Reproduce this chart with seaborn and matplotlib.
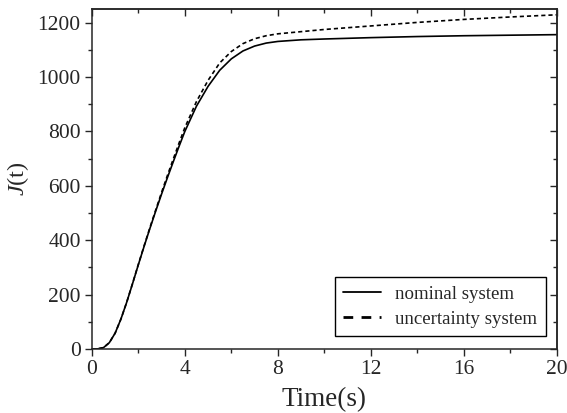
import pandas as pd
import seaborn as sns
import matplotlib.pyplot as plt
from matplotlib.ticker import MultipleLocator

# values
time_s = [0, 0.25, 0.5, 0.75, 1.0, 1.25, 1.5, 1.75, 2.0, 2.25, 2.5, 2.75, 3.0, 3.25,
          3.5, 3.75, 4.0, 4.5, 5.0, 5.5, 6.0, 6.5, 7.0, 7.5, 8.0, 9.0, 10, 12, 14, 16, 18, 20]
nominal = [0, 0.5, 5, 23, 58, 110, 172, 240, 310, 378, 444, 508, 570, 630,
           688, 745, 800, 893, 966, 1025, 1067, 1096, 1114, 1125, 1131, 1137, 1140, 1145, 1149, 1152, 1154, 1156]
uncertainty = [0, 0.5, 5, 23, 58, 110, 172, 241, 311, 380, 447, 512, 576, 638,
               698, 757, 814, 910, 988, 1052, 1094, 1123, 1141, 1152, 1159, 1167, 1175, 1188, 1201, 1212, 1221, 1229]

df = pd.DataFrame({'t': time_s, 'nominal': nominal, 'uncertainty': uncertainty})

sns.set_style('ticks')
plt.rcParams['font.family'] = ['Liberation Serif', 'DejaVu Serif']
plt.rcParams['mathtext.fontset'] = 'custom'
plt.rcParams['mathtext.it'] = 'Liberation Serif:italic'
plt.rcParams['mathtext.rm'] = 'Liberation Serif'

fig, ax = plt.subplots(figsize=(5.67, 4.13), dpi=100)
fig.subplots_adjust(left=0.162, right=0.982, bottom=0.155, top=0.978)

sns.lineplot(data=df, x='t', y='nominal', ax=ax, color='black', lw=1.2, label='nominal system')
sns.lineplot(data=df, x='t', y='uncertainty', ax=ax, color='black', lw=1.2,
             linestyle=(0, (2.5, 1.8)), label='uncertainty system')

ax.set_xlim(0, 20)
ax.set_ylim(0, 1250)
ax.xaxis.set_major_locator(MultipleLocator(4))
ax.xaxis.set_minor_locator(MultipleLocator(2))
ax.yaxis.set_major_locator(MultipleLocator(200))
ax.yaxis.set_minor_locator(MultipleLocator(100))
ax.tick_params(which='major', direction='out', length=5, width=1, labelsize=15.5, pad=3)
ax.tick_params(which='minor', direction='out', length=3, width=1)

# mirrored ticks pointing inward on top and right
top = ax.secondary_xaxis('top')
top.xaxis.set_major_locator(MultipleLocator(4))
top.xaxis.set_minor_locator(MultipleLocator(2))
top.tick_params(which='major', direction='in', length=5, width=1, labeltop=False)
top.tick_params(which='minor', direction='in', length=3, width=1)
right = ax.secondary_yaxis('right')
right.yaxis.set_major_locator(MultipleLocator(200))
right.yaxis.set_minor_locator(MultipleLocator(100))
right.tick_params(which='major', direction='in', length=5, width=1, labelright=False)
right.tick_params(which='minor', direction='in', length=3, width=1)

for sp in list(ax.spines.values()) + [top.spines['top'], right.spines['right']]:
    sp.set_linewidth(1.1)

ax.set_xlabel('Time(s)', fontsize=19.5, labelpad=6)
ax.set_ylabel('$J$(t)', fontsize=17.5, labelpad=5)

leg = ax.legend(loc='lower right', bbox_to_anchor=(0.976, 0.038), fontsize=13.6,
                frameon=True, fancybox=False, edgecolor='black', framealpha=1,
                handlelength=2.0, handletextpad=0.75, borderpad=0.45, labelspacing=0.4,
                borderaxespad=0)
leg.get_frame().set_linewidth(1)
hl = leg.get_lines()
hl[0].set_linewidth(1.3)
hl[1].set_linewidth(2.0)
hl[1].set_linestyle((0, (3.5, 3)))

plt.savefig('out.png', dpi=100)
